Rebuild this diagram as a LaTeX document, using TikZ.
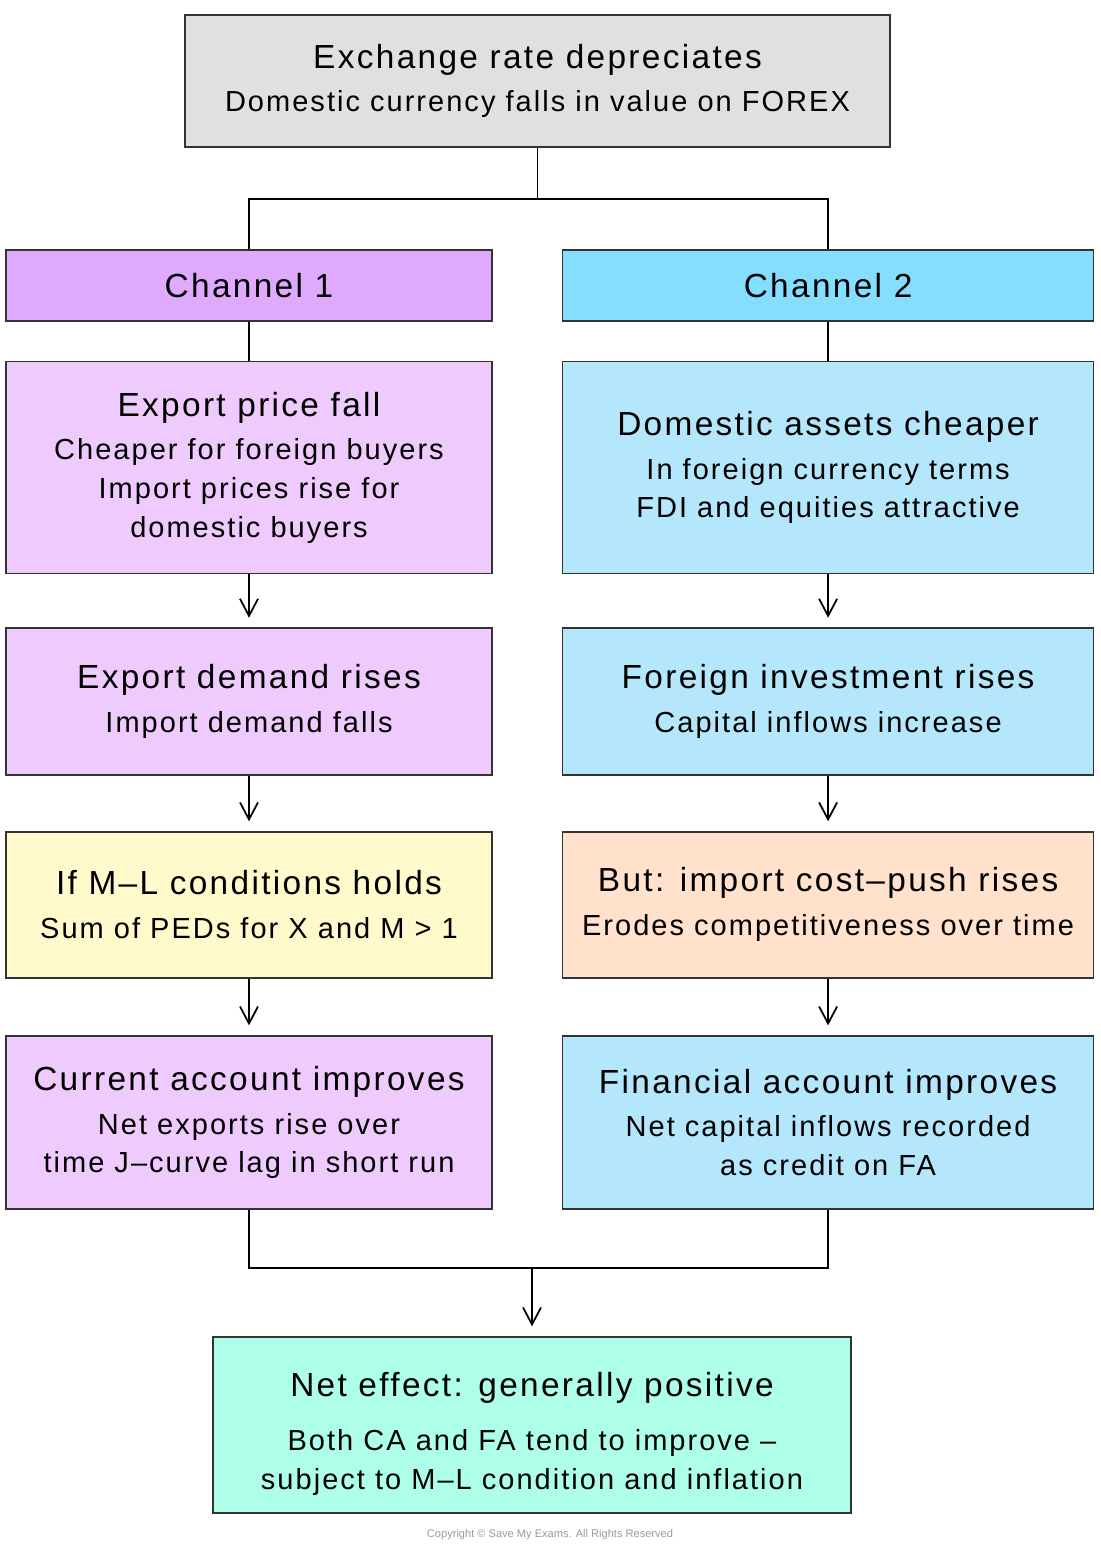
\documentclass[tikz,border=0pt]{standalone}
\usepackage{fontspec}
\setmainfont{Liberation Sans}[LetterSpace=7]
\usetikzlibrary{arrows.meta,positioning}

\definecolor{topgray}{HTML}{E0E0E0}
\definecolor{chonefill}{HTML}{DFA9FD}
\definecolor{chtwofill}{HTML}{86DEFF}
\definecolor{purplefill}{HTML}{EECBFC}
\definecolor{bluefill}{HTML}{B4E6FC}
\definecolor{yellowfill}{HTML}{FFF9CC}
\definecolor{peachfill}{HTML}{FFE1CC}
\definecolor{mintfill}{HTML}{ADFFEA}
\definecolor{boxline}{HTML}{333333}
\definecolor{copygray}{HTML}{9A9A9A}

\newcommand{\boxtitle}[1]{{\fontsize{19}{25}\selectfont #1}}

\begin{document}
\begin{tikzpicture}[>={Straight Barb[length=3.4mm,width=3.6mm]}, line width=1pt,
	box/.style={draw=boxline, line width=0.9pt, align=center, inner sep=4pt,
		font=\fontsize{16.5}{22}\selectfont},
	leftbox/.style={box, minimum width=9.72cm},
	rightbox/.style={box, minimum width=10.62cm}]
	\useasboundingbox (0,0) rectangle (22,-30.9);

	% Start
	\node [box, fill=topgray, minimum width=14.1cm, minimum height=2.64cm] (top) at (10.75,-1.62)
		{\boxtitle{Exchange rate depreciates}\\[2pt] Domestic currency falls in value on FOREX};

	% Channels
	\node [leftbox, fill=chonefill, minimum height=1.42cm] (ch1) at (4.98,-5.71) {\boxtitle{Channel 1}};
	\node [rightbox, fill=chtwofill, minimum height=1.42cm] (ch2) [right=1.38cm of ch1] {\boxtitle{Channel 2}};

	% Channel 1 {price, demand, ml, current}
	\node [leftbox, fill=purplefill, minimum height=4.24cm] (price) [below=0.78cm of ch1]
		{\boxtitle{Export price fall}\\[3pt] Cheaper for foreign buyers\\ Import prices rise for\\ domestic buyers};
	\node [leftbox, fill=purplefill, minimum height=2.94cm] (demand) [below=1.06cm of price]
		{\boxtitle{Export demand rises}\\[3pt] Import demand falls};
	\node [leftbox, fill=yellowfill, minimum height=2.92cm] (ml) [below=1.1cm of demand]
		{\boxtitle{If M–L conditions holds}\\[3pt] Sum of PEDs for X and M > 1};
	\node [leftbox, fill=purplefill, minimum height=3.46cm] (current) [below=1.13cm of ml]
		{\boxtitle{Current account improves}\\[3pt] Net exports rise over\\ time J–curve lag in short run};

	% Channel 2 {assets, invest, costpush, financial}
	\node [rightbox, fill=bluefill, minimum height=4.24cm] (assets) [right=1.38cm of price]
		{\boxtitle{Domestic assets cheaper}\\[3pt] In foreign currency terms\\ FDI and equities attractive};
	\node [rightbox, fill=bluefill, minimum height=2.94cm] (invest) [right=1.38cm of demand]
		{\boxtitle{Foreign investment rises}\\[3pt] Capital inflows increase};
	\node [rightbox, fill=peachfill, minimum height=2.92cm] (costpush) [right=1.38cm of ml]
		{\boxtitle{But: import cost–push rises}\\[3pt] Erodes competitiveness over time};
	\node [rightbox, fill=bluefill, minimum height=3.46cm] (financial) [right=1.38cm of current]
		{\boxtitle{Financial account improves}\\[3pt] Net capital inflows recorded\\ as credit on FA};

	% Joins
	\coordinate (split) at (10.75,-3.98);
	\coordinate (join) at (10.64,-25.36);

	% Outcome
	\node [box, fill=mintfill, minimum width=12.76cm, minimum height=3.52cm] (net) [below=1.36cm of join]
		{\rule{0pt}{24pt}\boxtitle{Net effect: generally positive}\\[9pt] Both CA and FA tend to improve –\\ subject to M–L condition and inflation};

	% Paths
	\draw (top.south) -- (split);
	\draw (ch1.north) |- (split) -| (ch2.north);
	\draw (current.south) |- (join) -| (financial.south);
	\path [-]	(ch1) edge (price)
				(ch2) edge (assets);
	\path [->, shorten >=5.5pt]
				(price) edge (demand)
				(demand) edge (ml)
				(ml) edge (current)
				(assets) edge (invest)
				(invest) edge (costpush)
				(costpush) edge (financial)
				(join) edge (net);

	\node [text=copygray, font=\fontsize{6.3}{7}\selectfont\addfontfeature{LetterSpace=0}] (copy) at (11,-30.7)
		{Copyright © Save My Exams. All Rights Reserved};
\end{tikzpicture}
\end{document}
